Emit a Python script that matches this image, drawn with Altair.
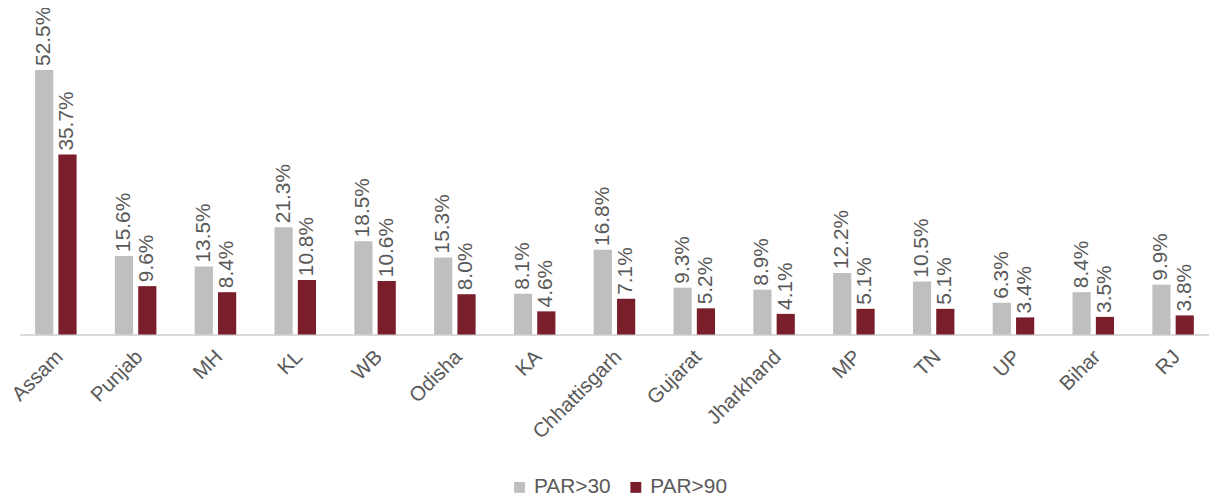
import altair as alt
import pandas as pd

states = ["Assam", "Punjab", "MH", "KL", "WB", "Odisha", "KA", "Chhattisgarh",
          "Gujarat", "Jharkhand", "MP", "TN", "UP", "Bihar", "RJ"]
par30 = [52.5, 15.6, 13.5, 21.3, 18.5, 15.3, 8.1, 16.8, 9.3, 8.9, 12.2, 10.5, 6.3, 8.4, 9.9]
par90 = [35.7, 9.6, 8.4, 10.8, 10.6, 8.0, 4.6, 7.1, 5.2, 4.1, 5.1, 5.1, 3.4, 3.5, 3.8]
series = ["PAR>30", "PAR>90"]
colors = ["#BFBFBF", "#7B1E2B"]

rows = []
for i, s in enumerate(states):
    rows.append({"state": s, "series": series[0], "value": par30[i]})
    rows.append({"state": s, "series": series[1], "value": par90[i]})
df = pd.DataFrame(rows)
df["label"] = df["value"].map(lambda v: f"{v:.1f}%")

FONT = "Liberation Sans"
GRAY = "#595959"
FS = 21

x = alt.X("state:N", sort=states, title=None,
          scale=alt.Scale(paddingInner=0.48, paddingOuter=0.19),
          axis=alt.Axis(labelAngle=-45, labelAlign="right", labelBaseline="middle",
                        labelFontSize=20.5, labelColor=GRAY, labelFont=FONT, labelOffset=4,
                        ticks=False, domainColor="#D9D9D9", domainWidth=2, labelPadding=19))
xo = alt.XOffset("series:N", sort=series, scale=alt.Scale(paddingInner=0.22))
y = alt.Y("value:Q", scale=alt.Scale(domain=[0, 64.5], nice=False, zero=True), axis=None)

base = alt.Chart(df)
bars = base.mark_bar().encode(
    x=x, xOffset=xo, y=y,
    color=alt.Color("series:N", sort=series,
                    scale=alt.Scale(domain=series, range=colors),
                    legend=alt.Legend(title=None, orient="none", legendX=492, legendY=470,
                                      direction="horizontal", symbolType="square",
                                      symbolSize=120, symbolStrokeWidth=0,
                                      labelFontSize=FS, labelFont=FONT, labelColor=GRAY,
                                      columnPadding=14, labelOffset=4)),
)
labels = base.mark_text(angle=270, align="left", baseline="middle", dx=4,
                        fontSize=FS, font=FONT, color=GRAY).encode(
    x=x, xOffset=xo, y=y, text="label:N")

chart = (bars + labels).properties(
    width=1196, height=327,
    autosize=alt.AutoSizeParams(type="none"),
    padding={"left": 12, "top": 0, "right": 0, "bottom": 168},
    background="white",
).configure_view(strokeWidth=0, stroke="transparent")

chart.save("out.html", embed_options={"renderer": "svg", "actions": False})
